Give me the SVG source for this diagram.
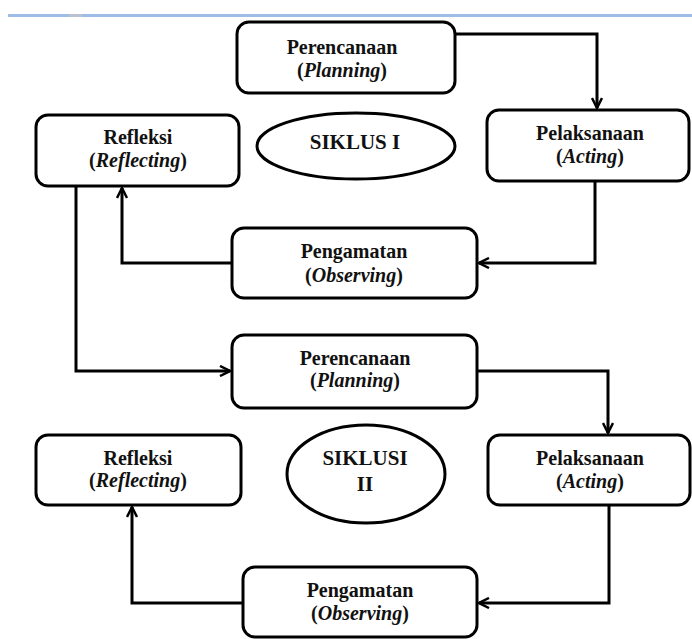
<svg xmlns="http://www.w3.org/2000/svg" width="692" height="639" viewBox="0 0 692 639">
<style>
.box{fill:#fff;stroke:#000;stroke-width:3}
.ell{fill:#fff;stroke:#000;stroke-width:3}
.t{font-family:"Liberation Serif","DejaVu Serif",serif;font-size:20px;font-weight:bold;fill:#111;text-anchor:middle}
.s1{font-size:21px}
.s2{font-size:21px}
.i{font-style:italic}
.c{fill:none;stroke:#000;stroke-width:3}
</style>
<defs>
<marker id="ah" viewBox="0 0 12 12" refX="11" refY="6" markerWidth="12" markerHeight="12" markerUnits="userSpaceOnUse" orient="auto">
<path d="M1,1 L11,6 L1,11" fill="none" stroke="#000" stroke-width="2.5"/>
</marker>
</defs>
<rect x="0" y="0" width="692" height="639" fill="#fff"/>
<rect x="8" y="14" width="684" height="3" fill="#9dbde6"/>
<rect x="69" y="14" width="13" height="3" fill="#b9c3cf"/>

<g id="connectors">
<path class="c" d="M455 34 H597 V108" marker-end="url(#ah)"/>
<path class="c" d="M595 181 V263 H479" marker-end="url(#ah)"/>
<path class="c" d="M232 263 H122 V188" marker-end="url(#ah)"/>
<path class="c" d="M76 186 V371 H230" marker-end="url(#ah)"/>
<path class="c" d="M477 371 H608 V433" marker-end="url(#ah)"/>
<path class="c" d="M609 505 V603 H479" marker-end="url(#ah)"/>
<path class="c" d="M243 603 H132 V507" marker-end="url(#ah)"/>
</g>

<g id="plan1">
<rect class="box" x="237" y="22" width="218" height="71" rx="12"/>
<text class="t" x="342" y="54">Perencanaan</text>
<text class="t" x="342" y="77">(<tspan class="i">Planning</tspan>)</text>
</g>
<g id="act1">
<rect class="box" x="487" y="110" width="202" height="71" rx="12"/>
<text class="t" x="590" y="140">Pelaksanaan</text>
<text class="t" x="590" y="163">(<tspan class="i">Acting</tspan>)</text>
</g>
<g id="ref1">
<rect class="box" x="36" y="115" width="203" height="71" rx="12"/>
<text class="t" x="138" y="144">Refleksi</text>
<text class="t" x="138" y="167">(<tspan class="i">Reflecting</tspan>)</text>
</g>
<g id="siklus1">
<ellipse class="ell" cx="356" cy="146" rx="99" ry="33"/>
<text class="t s1" x="355" y="149">SIKLUS I</text>
</g>
<g id="obs1">
<rect class="box" x="232" y="228" width="245" height="70" rx="12"/>
<text class="t" x="354" y="258">Pengamatan</text>
<text class="t" x="354" y="282">(<tspan class="i">Observing</tspan>)</text>
</g>
<g id="plan2">
<rect class="box" x="232" y="335" width="245" height="73" rx="12"/>
<text class="t" x="355" y="365">Perencanaan</text>
<text class="t" x="355" y="387">(<tspan class="i">Planning</tspan>)</text>
</g>
<g id="act2">
<rect class="box" x="488" y="435" width="202" height="70" rx="12"/>
<text class="t" x="590" y="465">Pelaksanaan</text>
<text class="t" x="590" y="488">(<tspan class="i">Acting</tspan>)</text>
</g>
<g id="ref2">
<rect class="box" x="36" y="435" width="205" height="70" rx="12"/>
<text class="t" x="138" y="465">Refleksi</text>
<text class="t" x="138" y="487">(<tspan class="i">Reflecting</tspan>)</text>
</g>
<g id="siklus2">
<ellipse class="ell" cx="366" cy="474" rx="79" ry="49"/>
<text class="t s2" x="365" y="465">SIKLUSI</text>
<text class="t s2" x="365" y="491">II</text>
</g>
<g id="obs2">
<rect class="box" x="243" y="567" width="234" height="70" rx="12"/>
<text class="t" x="360" y="597">Pengamatan</text>
<text class="t" x="360" y="620">(<tspan class="i">Observing</tspan>)</text>
</g>
</svg>
